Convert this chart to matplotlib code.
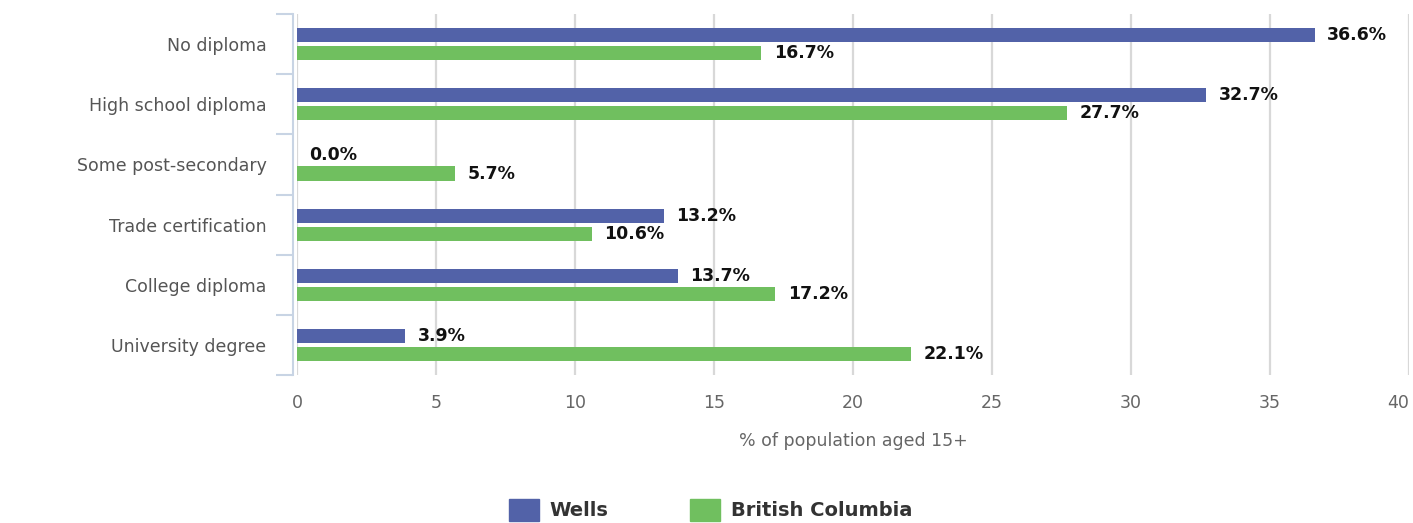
import numpy as np
import matplotlib
matplotlib.use("Agg")
import matplotlib.pyplot as plt
from matplotlib.patches import Patch

categories = ["No diploma", "High school diploma", "Some post-secondary",
              "Trade certification", "College diploma", "University degree"]
wells = [36.6, 32.7, 0.0, 13.2, 13.7, 3.9]
bc = [16.7, 27.7, 5.7, 10.6, 17.2, 22.1]
series_names = ["Wells", "British Columbia"]
x_ticks = [0, 5, 10, 15, 20, 25, 30, 35, 40]

BLUE = "#5262a8"
GREEN = "#70bf5f"

fig = plt.figure(figsize=(14.13, 5.23), dpi=100)
ax = fig.add_axes([0.2102, 0.283, 0.7870, 0.690])

y = np.arange(len(categories))
off = 0.15
h = 0.235
ax.barh(y - off, wells, height=h, color=BLUE, zorder=3)
ax.barh(y + off, bc, height=h, color=GREEN, zorder=3)

for yi, v in zip(y, wells):
    ax.annotate(f"{v:.1f}%", (v, yi - off), xytext=(9, 0), textcoords="offset points",
                va="center", ha="left", fontsize=12.5, fontweight="bold", color="#111111")
for yi, v in zip(y, bc):
    ax.annotate(f"{v:.1f}%", (v, yi + off), xytext=(9, 0), textcoords="offset points",
                va="center", ha="left", fontsize=12.5, fontweight="bold", color="#111111")

ax.set_xlim(0, 40)
ax.set_ylim(len(categories) - 0.5, -0.5)
ax.set_xticks(x_ticks)
ax.set_xticklabels([str(t) for t in x_ticks])
ax.get_xticklabels()[-1].set_horizontalalignment("right")
ax.tick_params(axis="x", length=0, pad=14, labelsize=12.5, labelcolor="#666666")
ax.grid(axis="x", color="#d8d8d8", linewidth=1.6, zorder=0)

ax.set_yticks(y)
ax.set_yticklabels(categories)
ax.set_yticks(np.arange(-0.5, len(categories)), minor=True)
ax.tick_params(axis="y", which="major", length=0, pad=19, labelsize=12.5, labelcolor="#555555")
ax.tick_params(axis="y", which="minor", length=12, width=1.5, color="#c8d4e4")

for s in ["top", "right", "bottom"]:
    ax.spines[s].set_visible(False)
ax.spines["left"].set_color("#c8d4e4")
ax.spines["left"].set_linewidth(1.5)
ax.spines["left"].set_position(("outward", 3))

ax.set_xlabel("% of population aged 15+", fontsize=12.5, color="#666666", labelpad=14)

handles = [Patch(color=BLUE, label=series_names[0]), Patch(color=GREEN, label=series_names[1])]
leg = fig.legend(handles=handles, loc="center", bbox_to_anchor=(0.503, 0.025), ncol=2,
                 frameon=False, handlelength=1.55, handleheight=1.3, columnspacing=4.2,
                 handletextpad=0.55, prop={"size": 14, "weight": "bold"})
for t in leg.get_texts():
    t.set_color("#333333")

fig.savefig("out.png", dpi=100)
